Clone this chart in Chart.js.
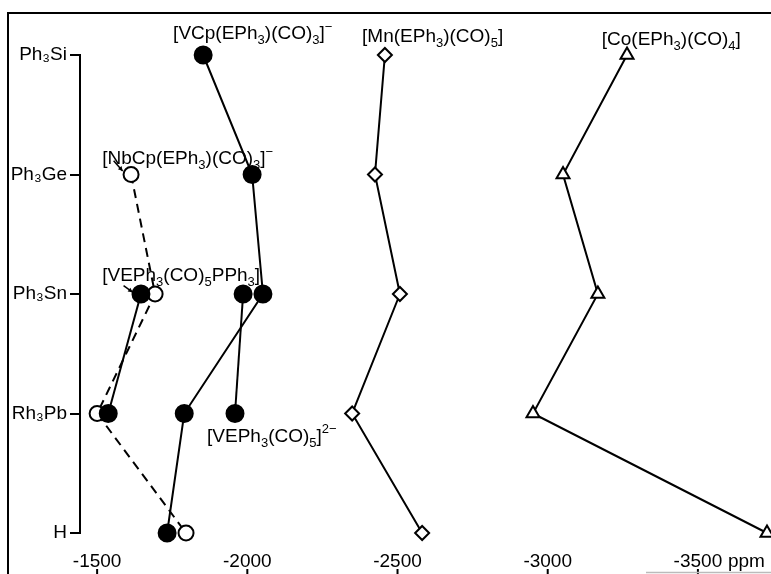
<!DOCTYPE html>
<html><head><meta charset="utf-8">
<script src="https://cdn.jsdelivr.net/npm/chart.js@4.4.1/dist/chart.umd.min.js"></script>
<style>html,body{margin:0;padding:0;background:#fff;}#wrap{width:771px;height:574px;}</style>
</head><body><div id="wrap"><canvas id="c" width="771" height="574"></canvas></div>
<script>
// ---- data ----
const categories = ['Ph₃Si', 'Ph₃Ge', 'Ph₃Sn', 'Rh₃Pb', 'H'];
const xTickValues = [-1500, -2000, -2500, -3000, -3500];
const xUnit = 'ppm';
const vcpValues    = [-1853, -2016, -2052, -1790, -1733];
const ve2Values    = [null, null, -1986, -1959, null];
const vepph3Values = [null, null, -1646, -1537, null];
const nbcpValues   = [null, -1613, -1693, -1500, -1796];
const mnValues     = [-2458, -2425, -2508, -2349, -2582];
const coValues     = [-3264, -3051, -3167, -2951, -3730];
const seriesNames = ['[VCp(EPh₃)(CO)₃]⁻', '[VEPh₃(CO)₅]²⁻', '[VEPh₃(CO)₅PPh₃]', '[NbCp(EPh₃)(CO)₃]⁻', '[Mn(EPh₃)(CO)₅]', '[Co(EPh₃)(CO)₄]'];

// label anchors in data units (ppm, category index)
const labelAnchors = [
  {text: seriesNames[0], x: -1753, y: -0.13},
  {text: seriesNames[4], x: -2382, y: -0.11},
  {text: seriesNames[5], x: -3180, y: -0.08},
  {text: seriesNames[3], x: -1517, y: 0.915},
  {text: seriesNames[2], x: -1517, y: 1.895},
  {text: seriesNames[1], x: -1866, y: 3.238}
];
const arrowAnchors = [
  {from: [-1555, 0.885], to: [-1585, 0.97]},
  {from: [-1588, 1.93], to: [-1618, 1.985]}
];

function pts(arr) {
  const out = [];
  arr.forEach((v, i) => { if (v !== null) out.push({x: v, y: i}); });
  return out;
}

const FONT = '"Liberation Sans", Arial, sans-serif';
const TICK_PAD = 17;
const SUB = {'₀':'0','₁':'1','₂':'2','₃':'3','₄':'4','₅':'5','₆':'6','₇':'7','₈':'8','₉':'9'};
const SUP = {'⁻':'−','²':'2','⁺':'+'};
function drawRich(ctx, text, x, y, size) {
  let cx = x;
  for (const ch of text) {
    let fs = size, dy = 0, c = ch;
    if (SUB[ch]) { c = SUB[ch]; fs = Math.round(size * 0.68); dy = size * 0.26; }
    else if (SUP[ch]) { c = SUP[ch]; fs = Math.round(size * 0.68); dy = -size * 0.45; }
    ctx.font = fs + 'px ' + FONT;
    ctx.fillText(c, cx, y + dy);
    cx += ctx.measureText(c).width;
  }
}

const decor = {
  id: 'decor',
  beforeDraw(chart) {
    const ctx = chart.ctx;
    ctx.save();
    ctx.fillStyle = '#fff';
    ctx.fillRect(0, 0, chart.width, chart.height);
    ctx.strokeStyle = '#000';
    ctx.lineWidth = 2;
    ctx.beginPath();
    ctx.moveTo(8, chart.height);
    ctx.lineTo(8, 13);
    ctx.lineTo(chart.width, 13);
    ctx.stroke();
    ctx.restore();
  },
  afterDraw(chart) {
    const ctx = chart.ctx, sx = chart.scales.x, sy = chart.scales.y;
    ctx.save();
    ctx.fillStyle = '#000';
    ctx.strokeStyle = '#000';
    ctx.textBaseline = 'alphabetic';
    ctx.textAlign = 'left';
    labelAnchors.forEach(a => drawRich(ctx, a.text, sx.getPixelForValue(a.x), sy.getPixelForValue(a.y), 19));
    // small arrows
    ctx.lineWidth = 1.5;
    arrowAnchors.forEach(a => {
      const x1 = sx.getPixelForValue(a.from[0]), y1 = sy.getPixelForValue(a.from[1]);
      const x2 = sx.getPixelForValue(a.to[0]), y2 = sy.getPixelForValue(a.to[1]);
      ctx.beginPath(); ctx.moveTo(x1, y1); ctx.lineTo(x2, y2); ctx.stroke();
      const ang = Math.atan2(y2 - y1, x2 - x1);
      ctx.beginPath();
      ctx.moveTo(x2, y2);
      ctx.lineTo(x2 - 5 * Math.cos(ang - 0.5), y2 - 5 * Math.sin(ang - 0.5));
      ctx.lineTo(x2 - 5 * Math.cos(ang + 0.5), y2 - 5 * Math.sin(ang + 0.5));
      ctx.closePath(); ctx.fill();
    });
    // unit
    ctx.font = '19px ' + FONT;
    ctx.textBaseline = 'middle';
    ctx.fillText(xUnit, sx.getPixelForValue(xTickValues[xTickValues.length - 1]) + 30, sx.top + TICK_PAD + 19 * 1.2 / 2);
    // bottom tick marks
    ctx.lineWidth = 2;
    xTickValues.forEach(v => {
      const px = sx.getPixelForValue(v);
      ctx.beginPath(); ctx.moveTo(px, 569); ctx.lineTo(px, chart.height); ctx.stroke();
    });
    ctx.strokeStyle = '#bbb';
    ctx.lineWidth = 1.5;
    ctx.beginPath(); ctx.moveTo(646, 572.5); ctx.lineTo(chart.width, 572.5); ctx.stroke();
    ctx.restore();
  }
};

const base = {borderColor: '#000', borderWidth: 2, tension: 0, clip: false, pointBorderColor: '#000', pointBorderWidth: 2};
new Chart(document.getElementById('c'), {
  type: 'line',
  data: {
    datasets: [
      Object.assign({}, base, {label: seriesNames[2], data: pts(vepph3Values), pointStyle: 'circle', pointRadius: 8.5, pointBackgroundColor: '#000'}),
      Object.assign({}, base, {label: seriesNames[3], data: pts(nbcpValues), borderDash: [9, 6], pointStyle: 'circle', pointRadius: 7.5, pointBackgroundColor: '#fff'}),
      Object.assign({}, base, {label: seriesNames[0], data: pts(vcpValues), pointStyle: 'circle', pointRadius: 8.5, pointBackgroundColor: '#000'}),
      Object.assign({}, base, {label: seriesNames[1], data: pts(ve2Values), pointStyle: 'circle', pointRadius: 8.5, pointBackgroundColor: '#000'}),
      Object.assign({}, base, {label: seriesNames[4], data: pts(mnValues), pointStyle: 'rectRot', pointRadius: 7, pointBackgroundColor: '#fff'}),
      Object.assign({}, base, {label: seriesNames[5], data: pts(coValues), pointStyle: 'triangle', pointRadius: 7.5, pointBackgroundColor: '#fff'})
    ]
  },
  options: {
    responsive: false,
    animation: false,
    devicePixelRatio: 1,
    layout: {autoPadding: false, padding: {left: 8, right: 1, top: 55, bottom: 0}},
    plugins: {legend: {display: false}, tooltip: {enabled: false}},
    scales: {
      x: {
        type: 'linear', reverse: true, min: -3740, max: -1443,
        afterBuildTicks: s => { s.ticks = xTickValues.map(v => ({value: v})); },
        afterFit: s => { s.height = 41; s.paddingLeft = 0; s.paddingRight = 0; },
        grid: {display: false, drawTicks: false},
        border: {display: false},
        ticks: {color: '#000', font: {family: FONT, size: 19}, padding: TICK_PAD, maxRotation: 0, autoSkip: false, callback: v => String(v)}
      },
      y: {
        type: 'linear', reverse: true, min: 0, max: 4,
        afterBuildTicks: s => { s.ticks = categories.map((c, i) => ({value: i})); },
        afterFit: s => { s.width = 72; s.paddingTop = 0; s.paddingBottom = 0; },
        grid: {drawOnChartArea: false, drawTicks: true, tickLength: 10, color: '#000', lineWidth: 2},
        border: {display: true, color: '#000', width: 2},
        ticks: {color: '#000', font: {family: FONT, size: 19}, padding: 3, autoSkip: false, callback: v => categories[v]}
      }
    }
  },
  plugins: [decor]
});
</script>
</body></html>
